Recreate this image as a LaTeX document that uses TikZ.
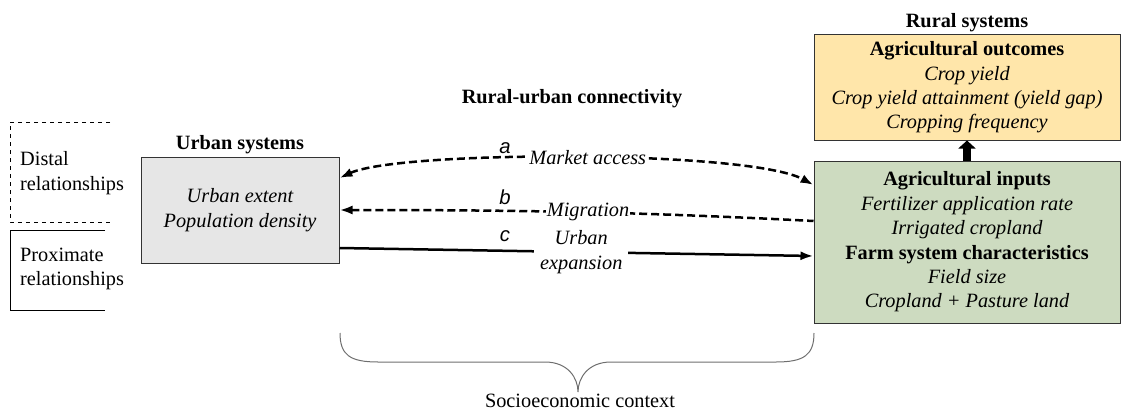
\documentclass[tikz,border=0pt]{standalone}
\usepackage{fontspec}
\setmainfont{Liberation Serif}
\setsansfont{Liberation Sans}
\usepackage{tikz}
\usetikzlibrary{arrows.meta, positioning}
\definecolor{urbangray}{RGB}{230, 230, 230}
\definecolor{outcomeyellow}{RGB}{255, 230, 170}
\definecolor{inputgreen}{RGB}{205, 219, 192}
\definecolor{bracegray}{RGB}{110, 110, 110}

\begin{document}
\begin{tikzpicture}[x=1pt, y=-1pt, node distance=1pt,
    every node/.style={font=\fontsize{20.3}{24.4}\selectfont}]
    \tikzstyle{system} = [rectangle, draw=black!80, line width=1pt, align=center, inner sep=0pt]
    \tikzstyle{title} = [font=\fontsize{20.3}{24.4}\selectfont\bfseries, inner sep=1pt]
    \tikzstyle{link} = [line width=2.5pt, >={Latex[length=13pt, width=9pt]}]
    \tikzstyle{distal} = [link, dash pattern=on 8pt off 4pt]
    \tikzstyle{tag} = [fill=white, inner sep=1pt, font=\fontsize{20.3}{24.4}\selectfont\itshape, align=center]
    \tikzstyle{letter} = [font=\fontsize{20.3}{24.4}\selectfont\sffamily\itshape]
    \tikzstyle{brace} = [draw=bracegray, line width=1pt]

    \useasboundingbox (0,0) rectangle (1121,412);

    % boxes
    \node (urban) [system, fill=urbangray, minimum width=198pt, minimum height=106pt] at (240,210)
        {\itshape Urban extent\\ \itshape Population density};
    \node (outcomes) [system, fill=outcomeyellow, minimum width=306pt, minimum height=105pt] at (967,87.5)
        {\bfseries Agricultural outcomes\\ \itshape Crop yield\\ \itshape Crop yield attainment (yield gap)\\ \itshape Cropping frequency};
    \node (inputs) [system, fill=inputgreen, minimum width=306pt, minimum height=162pt] at (967,242)
        {\bfseries Agricultural inputs\\ \itshape Fertilizer application rate\\ \itshape Irrigated cropland\\
         \bfseries Farm system characteristics\\ \itshape Field size\\ \itshape Cropland + Pasture land};

    \node (urbantitle) [title, above=of urban] {Urban systems};
    \node (ruraltitle) [title, above=of outcomes] {Rural systems};
    \node (connect) [title] at (572,99) {Rural-urban connectivity};

    % inputs feed outcomes
    \draw [line width=8pt, -{Triangle[length=8pt, width=17pt]}] (inputs.north) -- (outcomes.south);

    % connections
    \draw [distal, <->] ([yshift=32pt]urban.east) .. controls (400,150) and (750,150) .. ([yshift=57pt]inputs.west)
        node (market) [tag, pos=0.52] {Market access};
    \draw [distal, <-] (urban.east) .. controls (520,210) and (640,212) .. ([yshift=21pt]inputs.west)
        node (migration) [tag, pos=0.52] {Migration};
    \draw [link, ->] ([yshift=-38pt]urban.east) -- ([yshift=-14pt]inputs.west)
        node (expansion) [tag, pos=0.51, inner sep=6pt] {Urban\\expansion};
    \node (la) [letter] at (505,148) {a};
    \node (lb) [letter] at (505,197) {b};
    \node (lc) [letter] at (505,236) {c};

    % legend
    \node (distaltext) [anchor=west, align=left, inner sep=0pt] at (20,173) {Distal\\relationships};
    \node (proxtext) [anchor=west, align=left, inner sep=0pt] at (20,269) {Proximate\\relationships};
    \draw [line width=1pt, dash pattern=on 4pt off 4pt] (110,122) -| (10,222) -- (110,222);
    \draw [line width=1pt] (105,230) -| (10,310) -- (105,310);

    % socioeconomic brace
    \draw [brace] (340,333) .. controls (340,355) and (350,362) .. (378,362) -- (545,362)
        .. controls (568,362) and (578,378) .. (578,392)
        .. controls (578,378) and (588,362) .. (611,362) -- (776,362)
        .. controls (804,362) and (814,355) .. (814,333);
    \node (socio) [inner sep=1pt] at (580,401) {Socioeconomic context};
\end{tikzpicture}
\end{document}
